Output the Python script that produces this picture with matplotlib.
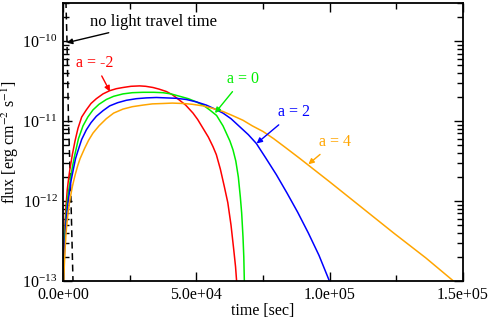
import numpy as np
import matplotlib
matplotlib.use("Agg")
import matplotlib.pyplot as plt
from matplotlib.ticker import LogLocator, MultipleLocator, NullFormatter

plt.rcParams['font.family'] = 'serif'
plt.rcParams['font.serif'] = ['Liberation Serif', 'DejaVu Serif']
plt.rcParams['mathtext.fontset'] = 'stix'

# light curves: time [s] and log10(flux)
t_red = [150, 250, 400, 600, 800, 1100, 1600, 2100, 2600, 3500, 4500, 5625, 7000, 8750,
         10500, 12500, 15000, 17500, 20000, 22500, 25500, 28750, 31000, 33750, 36000,
         38750, 41000, 43750, 46000, 48750, 50500, 52500, 54500, 56250, 57500, 59000,
         60500, 61800, 63000, 64000, 64700, 65100]
lf_red = [-13.0, -12.8, -12.6, -12.4, -12.25, -12.08, -11.86, -11.72, -11.6, -11.42, -11.25,
          -11.09, -10.95, -10.86, -10.78, -10.72, -10.66, -10.62, -10.595, -10.58, -10.565,
          -10.56, -10.565, -10.58, -10.6, -10.63, -10.67, -10.74, -10.8, -10.9, -10.98,
          -11.09, -11.2, -11.32, -11.42, -11.6, -11.82, -12.02, -12.3, -12.6, -12.82, -13.0]

t_green = [200, 300, 500, 700, 1000, 1400, 1900, 2900, 3600, 4375, 5800, 7500, 9300, 11250,
           13500, 16250, 19000, 22500, 26000, 30000, 34000, 37500, 40500, 43750, 47000,
           50000, 52500, 55000, 57600, 60000, 62600, 63750, 64800, 65750, 66500, 67000,
           67500, 67800, 68000]
lf_green = [-13.0, -12.8, -12.6, -12.42, -12.25, -12.07, -11.92, -11.7, -11.56, -11.43,
            -11.22, -11.06, -10.95, -10.86, -10.79, -10.73, -10.69, -10.66, -10.645, -10.64,
            -10.64, -10.645, -10.66, -10.69, -10.72, -10.76, -10.8, -10.86, -10.93, -11.06,
            -11.25, -11.36, -11.5, -11.7, -11.95, -12.15, -12.45, -12.7, -13.0]

t_blue = [250, 400, 600, 900, 1200, 1700, 2200, 3000, 3900, 4700, 5625, 7000, 8750, 10500,
          12500, 15000, 17500, 20500, 23750, 27500, 31250, 35000, 38750, 42500, 46250,
          50000, 53750, 57000, 60000, 63000, 66250, 69500, 72500, 76000, 80000, 84000,
          88000, 92000, 96000, 99900]
lf_blue = [-13.0, -12.8, -12.6, -12.4, -12.25, -12.07, -11.94, -11.75, -11.6, -11.47, -11.37,
           -11.23, -11.11, -11.02, -10.94, -10.87, -10.81, -10.77, -10.74, -10.72, -10.71,
           -10.705, -10.71, -10.715, -10.73, -10.76, -10.8, -10.85, -10.9, -10.97, -11.07,
           -11.17, -11.28, -11.46, -11.67, -11.9, -12.14, -12.4, -12.68, -13.0]

t_orange = [300, 500, 800, 1100, 1500, 2000, 2500, 3500, 4500, 5500, 6400, 8125, 9600, 11250,
            13500, 16250, 19000, 22500, 26000, 30000, 33500, 37500, 41000, 45000, 48500,
            52500, 56000, 60000, 63500, 67500, 71000, 75000, 79000, 83000, 88900, 100000,
            112000, 124000, 136000, 146400]
lf_orange = [-13.0, -12.8, -12.6, -12.42, -12.27, -12.12, -12.0, -11.82, -11.68, -11.56,
             -11.47, -11.34, -11.24, -11.15, -11.06, -10.97, -10.9, -10.85, -10.82, -10.8,
             -10.785, -10.78, -10.775, -10.78, -10.79, -10.81, -10.84, -10.88, -10.93, -10.99,
             -11.06, -11.13, -11.22, -11.32, -11.47, -11.76, -12.08, -12.4, -12.71, -13.0]

# "no light travel time" curve
t_nolt = [1100, 1500, 2060, 3000, 3750]
lf_nolt = [-9.5, -10.0, -11.0, -12.0, -13.0]

fig = plt.figure(figsize=(4.91, 3.17), dpi=100)
ax = fig.add_axes([0.1283, 0.1136, 0.8147, 0.8770])

lw = 1.1
ax.plot(t_nolt, 10 ** np.array(lf_nolt), color='black', lw=lw, dashes=(4.5, 3))
ax.plot(t_red, 10 ** np.array(lf_red), color='#ff0000', lw=lw)
ax.plot(t_green, 10 ** np.array(lf_green), color='#00ee00', lw=lw)
ax.plot(t_blue, 10 ** np.array(lf_blue), color='#0000ff', lw=lw)
ax.plot(t_orange, 10 ** np.array(lf_orange), color='#ffa500', lw=lw)

ax.set_yscale('log')
ax.set_xlim(0, 1.5e5)
ax.set_ylim(1e-13, 3e-10)

ax.xaxis.set_major_locator(MultipleLocator(5e4))
ax.xaxis.set_minor_locator(MultipleLocator(2.5e4))
ax.xaxis.set_major_formatter(plt.FuncFormatter(lambda v, p: f'{v:.1e}'))
ax.yaxis.set_major_locator(LogLocator(base=10, numticks=10))
ax.yaxis.set_minor_locator(LogLocator(base=10, subs=np.arange(2, 10), numticks=20))
ax.yaxis.set_minor_formatter(NullFormatter())

ax.tick_params(which='both', direction='in', top=True, right=True, labelsize=11.5, width=1.0)
ax.tick_params(which='major', length=6.5, pad=4)
ax.tick_params(which='minor', length=4)
for s in ax.spines.values():
    s.set_linewidth(1.3)

ax.set_xlabel('time [sec]', fontsize=11.5, labelpad=0)
ax.set_ylabel(r'flux [erg cm$^{-2}$ s$^{-1}$]', fontsize=11.5)
ax.yaxis.set_label_coords(-0.105, 0.5)

fs = 11.5
ax.annotate('no light travel time', xy=(1400, 10 ** -10.02), xytext=(10300, 10 ** -9.76),
            fontsize=12, color='black', va='center', ha='left',
            arrowprops=dict(arrowstyle='-|>', color='black', lw=1.0, mutation_scale=8, shrinkA=0, shrinkB=0))
ax.annotate('a = -2', xy=(17600, 10 ** -10.63), xytext=(4900, 10 ** -10.27),
            fontsize=fs, color='#ff0000', va='center', ha='left',
            arrowprops=dict(arrowstyle='-|>', color='#ff0000', lw=1.0, mutation_scale=8, shrinkA=2, shrinkB=0))
ax.annotate('a = 0', xy=(57000, 10 ** -10.9), xytext=(61500, 10 ** -10.47),
            fontsize=fs, color='#00ee00', va='center', ha='left',
            arrowprops=dict(arrowstyle='-|>', color='#00ee00', lw=1.0, mutation_scale=8, shrinkA=2, shrinkB=0))
ax.annotate('a = 2', xy=(72600, 10 ** -11.28), xytext=(80500, 10 ** -10.89),
            fontsize=fs, color='#0000ff', va='center', ha='left',
            arrowprops=dict(arrowstyle='-|>', color='#0000ff', lw=1.0, mutation_scale=8, shrinkA=2, shrinkB=0))
ax.annotate('a = 4', xy=(92000, 10 ** -11.54), xytext=(96000, 10 ** -11.26),
            fontsize=fs, color='#ffa500', va='center', ha='left',
            arrowprops=dict(arrowstyle='-|>', color='#ffa500', lw=1.0, mutation_scale=8, shrinkA=2, shrinkB=0))

fig.savefig('out.png', dpi=100)
